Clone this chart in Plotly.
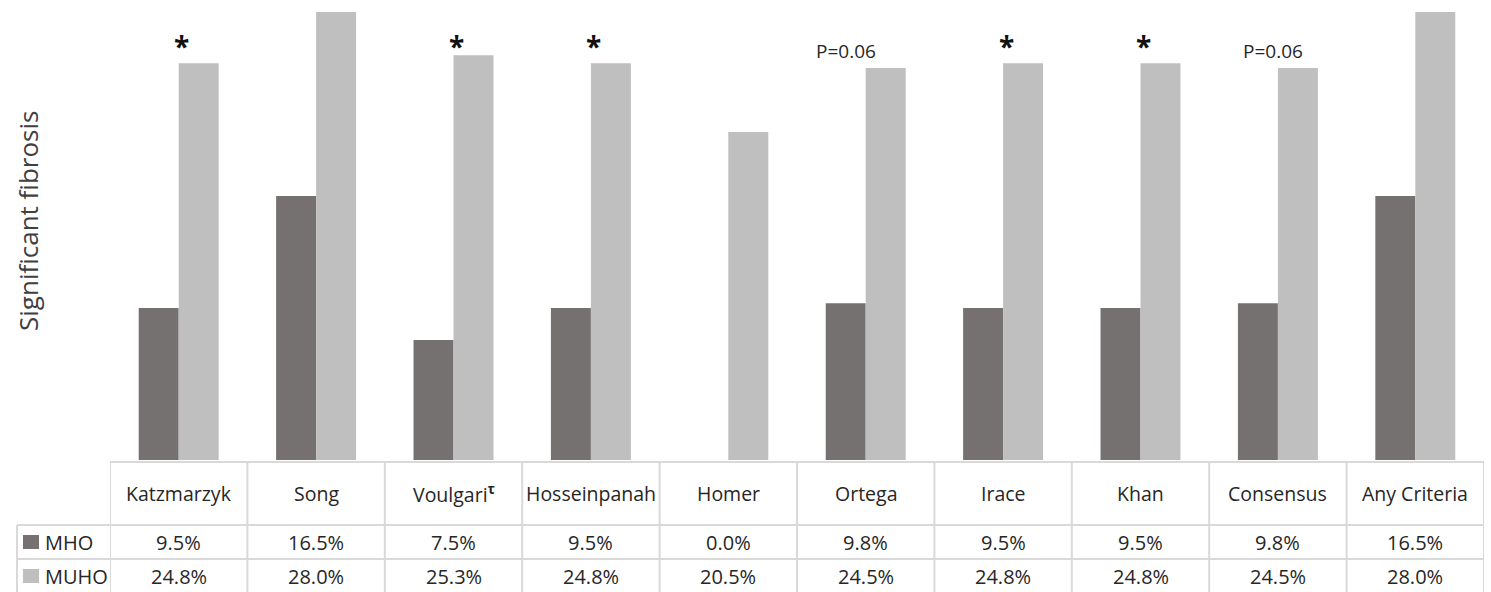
import plotly.graph_objects as go

# ---- data ----
categories = ["Katzmarzyk", "Song", "Voulgari", "Hosseinpanah", "Homer",
              "Ortega", "Irace", "Khan", "Consensus", "Any Criteria"]
superscripts = ["", "", "τ", "", "", "", "", "", "", ""]
series_names = ["MHO", "MUHO"]
mho = [9.5, 16.5, 7.5, 9.5, 0.0, 9.8, 9.5, 9.5, 9.8, 16.5]
muho = [24.8, 28.0, 25.3, 24.8, 20.5, 24.5, 24.8, 24.8, 24.5, 28.0]
sig_marks = ["*", "", "*", "*", "", "P=0.06", "*", "*", "P=0.06", ""]
y_title = "Significant fibrosis"

# ---- style ----
W, H = 1491, 592
colors = ["#767171", "#BFBFBF"]
grid = "#D9D9D9"
txt = "#262626"
FONT = "Open Sans"

def px(x):
    return x / W

def py(y):
    return (H - y) / H

fig = go.Figure()
for name, vals, col in zip(series_names, [mho, muho], colors):
    fig.add_trace(go.Bar(x=categories, y=vals, name=name, marker_color=col,
                         marker_line_width=0, showlegend=False, hoverinfo="skip"))

base_y = 460
fig.update_layout(
    width=W, height=H, margin=dict(l=0, r=0, t=0, b=0),
    paper_bgcolor="white", plot_bgcolor="white",
    barmode="group", bargap=0.418, bargroupgap=0,
    font=dict(family=FONT, color=txt),
    xaxis=dict(domain=[px(110), px(1484)], range=[-0.5, len(categories) - 0.5],
               showticklabels=False, showgrid=False, zeroline=False, showline=False,
               type="category", categoryarray=categories, fixedrange=True),
    yaxis=dict(domain=[py(base_y), 1.0], range=[0, 28.75], showticklabels=False,
               showgrid=False, zeroline=False, showline=False, fixedrange=True),
)

ann = []
shapes = []

def add_text(text, x, y, xref, size, color=txt, xanchor="center", xshift=0, angle=0):
    ann.append(dict(text=text, x=x, y=y, xref=xref, yref="paper", showarrow=False,
                    xanchor=xanchor, yanchor="middle", xshift=xshift, textangle=angle,
                    font=dict(size=size, color=color, family=FONT)))

# y-axis title
add_text(y_title, px(28), py(221), "paper", 26, color="#404040", angle=-90)

# significance marks
for i, m in enumerate(sig_marks):
    if not m:
        continue
    if m == "*":
        add_text("<b>*</b>", categories[i], py(46), "x", 28, color="#111111", xshift=3)
    else:
        add_text(m, categories[i], py(51), "x", 19, xshift=(-20 if i == 5 else -5))

# table grid
top, r1, r2, bot = 462, 525, 559, 600
shapes.append(dict(type="line", xref="paper", yref="paper", x0=px(110), x1=px(1484),
                   y0=py(top), y1=py(top), line=dict(color=grid, width=2)))
for yy in (r1, r2):
    shapes.append(dict(type="line", xref="paper", yref="paper", x0=px(17), x1=px(1484),
                       y0=py(yy), y1=py(yy), line=dict(color=grid, width=2)))
shapes.append(dict(type="line", xref="paper", yref="paper", x0=px(17), x1=px(17),
                   y0=py(r1), y1=py(bot), line=dict(color=grid, width=2)))
for i in range(len(categories) + 1):
    shapes.append(dict(type="line", xref="x", yref="paper", x0=i - 0.5, x1=i - 0.5,
                       y0=py(top), y1=py(bot), line=dict(color=grid, width=2)))

# header labels
for c, s in zip(categories, superscripts):
    label = c + (f"<sup><b>{s}</b></sup>" if s else "")
    add_text(label, c, py(493), "x", 19.5)

# values rows + legend keys
row_centers = [542, 576]
for vals, name, col, yc in zip([mho, muho], series_names, colors, row_centers):
    for c, v in zip(categories, vals):
        add_text(f"{v:.1f}%", c, py(yc), "x", 20)
    shapes.append(dict(type="rect", xref="paper", yref="paper", x0=px(23), x1=px(39),
                       y0=py(yc - 7), y1=py(yc + 7), fillcolor=col, line_width=0))
    add_text(name, px(43), py(yc), "paper", 20, xanchor="left")

fig.update_layout(annotations=ann, shapes=shapes)
fig.write_html("out.html", config={"displayModeBar": False},
               post_script="document.body.style.margin='0';")
